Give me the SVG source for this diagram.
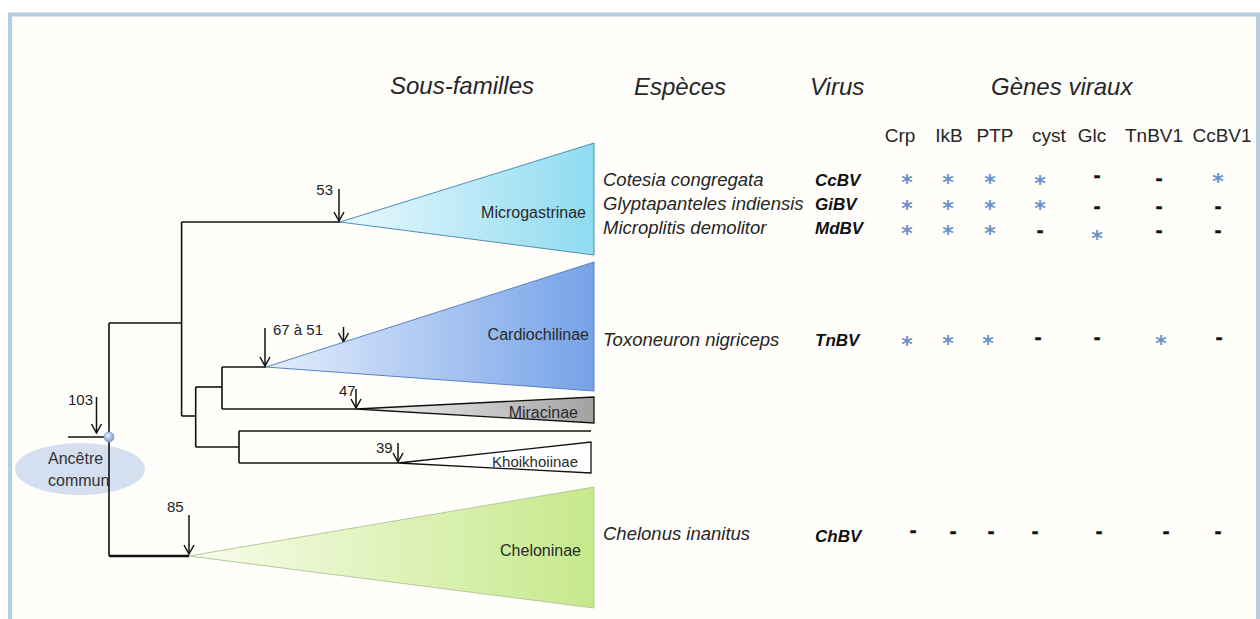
<svg xmlns="http://www.w3.org/2000/svg" width="1260" height="619" viewBox="0 0 1260 619">
<defs>
<style>
.title{font-family:"Liberation Sans",Arial,sans-serif;font-style:italic;font-size:24px;fill:#262626}
.gene{font-family:"Liberation Sans",Arial,sans-serif;font-size:19px;fill:#262626;text-anchor:middle}
.sp{font-family:"Liberation Sans",Arial,sans-serif;font-style:italic;font-size:18.5px;fill:#262626}
.vir{font-family:"Liberation Sans",Arial,sans-serif;font-style:italic;font-weight:bold;font-size:17px;fill:#111}
.lab{font-family:"Liberation Sans",Arial,sans-serif;font-size:16px;fill:#2a2a2a;text-anchor:end}
.num{font-family:"Liberation Sans",Arial,sans-serif;font-size:15px;fill:#222}
.anc{font-family:"Liberation Sans",Arial,sans-serif;font-size:16px;fill:#333}
.ast{font-family:"DejaVu Sans",sans-serif;font-size:22px;font-weight:bold;fill:#6a93c9;text-anchor:middle}
.dash{font-family:"Liberation Sans",Arial,sans-serif;font-size:20px;font-weight:bold;fill:#111;stroke:#111;stroke-width:0.6;text-anchor:middle}
.br{fill:none;stroke:#111;stroke-width:1.6}
.arr{fill:none;stroke:#111;stroke-width:1.5;marker-end:url(#ah)}
</style>
<marker id="ah" markerUnits="userSpaceOnUse" viewBox="-2 -7 12 14" refX="8" refY="0" markerWidth="12" markerHeight="14" orient="auto">
<path d="M-1,-5 L8,0 L-1,5" fill="none" stroke="#111" stroke-width="1.5"/>
</marker>
<linearGradient id="gMicro" x1="0" y1="0" x2="1" y2="0"><stop offset="0" stop-color="#eaf8fd"/><stop offset="1" stop-color="#8edbf0"/></linearGradient>
<linearGradient id="gCardio" x1="0" y1="0" x2="1" y2="0"><stop offset="0" stop-color="#e4eefc"/><stop offset="1" stop-color="#76a2e8"/></linearGradient>
<linearGradient id="gMira" x1="0" y1="0" x2="1" y2="0"><stop offset="0" stop-color="#f4f4f4"/><stop offset="1" stop-color="#a2a2a2"/></linearGradient>
<linearGradient id="gChel" x1="0" y1="0" x2="1" y2="0"><stop offset="0" stop-color="#f8fcea"/><stop offset="1" stop-color="#c6e98b"/></linearGradient>
<radialGradient id="gNode" cx="0.4" cy="0.35" r="0.7"><stop offset="0" stop-color="#e8f0fa"/><stop offset="1" stop-color="#6f93c4"/></radialGradient>
</defs>

<rect x="0" y="0" width="1260" height="619" fill="#ffffff"/>
<rect x="10" y="14.5" width="1248" height="700" fill="#fffefb" stroke="#b4cde0" stroke-width="4"/>

<g id="headers">
<text class="title" x="390" y="94">Sous-familles</text>
<text class="title" x="634" y="95">Espèces</text>
<text class="title" x="810" y="95">Virus</text>
<text class="title" x="991" y="95">Gènes viraux</text>
<text class="gene" x="900" y="142">Crp</text>
<text class="gene" x="949" y="142">IkB</text>
<text class="gene" x="995" y="142">PTP</text>
<text class="gene" x="1049" y="142">cyst</text>
<text class="gene" x="1092" y="142">Glc</text>
<text class="gene" x="1154" y="142">TnBV1</text>
<text class="gene" x="1222" y="142">CcBV1</text>
</g>

<g id="ancestor">
<ellipse cx="80" cy="469" rx="65" ry="26" fill="#d4dff0"/>
<text class="anc" x="48" y="464">Ancêtre</text>
<text class="anc" x="48" y="486">commun</text>
</g>

<g id="connectors">
<path class="br" d="M68,437 H109"/>
<path class="br" d="M109,323 V556"/>
<path class="br" d="M109,323 H181.6"/>
<path class="br" d="M181.6,222 V416"/>
<path class="br" d="M181.6,222 H340"/>
<path class="br" d="M181.6,416 H195.7"/>
<path class="br" d="M195.7,387 V447"/>
<path class="br" d="M195.7,387 H222"/>
<path class="br" d="M222,367 V409"/>
<path class="br" d="M222,367 H266"/>
<path class="br" d="M222,409 H356"/>
<path class="br" d="M195.7,447 H239"/>
<path class="br" d="M239,431 V463"/>
<path class="br" d="M239,431 H591"/>
<path class="br" d="M239,463 H398"/>
<path d="M109,556 H189" fill="none" stroke="#111" stroke-width="2.6"/>
<path class="arr" d="M339,189 V221"/>
<path class="arr" d="M265,328 V366"/>
<path class="arr" d="M343.5,327 V342"/>
<path class="arr" d="M356,389 V408"/>
<path class="arr" d="M398,443 V462"/>
<path class="arr" d="M189,515 V554"/>
<path class="arr" d="M96.5,397 V433"/>
</g>

<g id="root-node">
<circle cx="109" cy="437" r="5" fill="url(#gNode)" stroke="#7f9cc4" stroke-width="0.8"/>
</g>

<g id="dates">
<text class="num" x="333" y="195" text-anchor="end">53</text>
<text class="num" x="273" y="335">67 à 51</text>
<text class="num" x="339" y="396">47</text>
<text class="num" x="376" y="453">39</text>
<text class="num" x="167" y="512">85</text>
<text class="num" x="68" y="405">103</text>
</g>

<g id="microgastrinae">
<polygon points="340,222 594,143 594,255" fill="url(#gMicro)" stroke="#4a90b6" stroke-width="1"/>
<text class="lab" x="586" y="218">Microgastrinae</text>
</g>
<g id="cardiochilinae">
<polygon points="266,367 594,262 594,391" fill="url(#gCardio)" stroke="#5682c0" stroke-width="1"/>
<text class="lab" x="589" y="340">Cardiochilinae</text>
</g>
<g id="miracinae">
<polygon points="356,409 594,397 594,423" fill="url(#gMira)" stroke="#111" stroke-width="1.3"/>
<text class="lab" x="578" y="418">Miracinae</text>
</g>
<g id="khoikhoiinae">
<polygon points="398,463 591,442 591,473" fill="#ffffff" stroke="#111" stroke-width="1.3"/>
<text class="lab" x="578" y="467" style="font-size:15px">Khoikhoiinae</text>
</g>
<g id="cheloninae">
<polygon points="189,556 594,487 594,608" fill="url(#gChel)" stroke="#b5c99a" stroke-width="1"/>
<text class="lab" x="581" y="556">Cheloninae</text>
</g>

<g id="row-ccbv">
<text class="sp" x="603" y="186">Cotesia congregata</text>
<text class="vir" x="815" y="186">CcBV</text>
<text class="ast" x="907" y="190">*</text><text class="ast" x="948" y="190">*</text><text class="ast" x="990" y="190">*</text><text class="ast" x="1040" y="191">*</text>
<text class="dash" x="1097" y="182">-</text><text class="dash" x="1159" y="185">-</text>
<text class="ast" x="1218" y="189">*</text>
</g>
<g id="row-gibv">
<text class="sp" x="603" y="210">Glyptapanteles indiensis</text>
<text class="vir" x="815" y="210">GiBV</text>
<text class="ast" x="907" y="216">*</text><text class="ast" x="948" y="216">*</text><text class="ast" x="990" y="216">*</text><text class="ast" x="1040" y="216">*</text>
<text class="dash" x="1097" y="213">-</text><text class="dash" x="1159" y="213">-</text><text class="dash" x="1218" y="213">-</text>
</g>
<g id="row-mdbv">
<text class="sp" x="603" y="234">Microplitis demolitor</text>
<text class="vir" x="815" y="234">MdBV</text>
<text class="ast" x="907" y="241">*</text><text class="ast" x="948" y="241">*</text><text class="ast" x="990" y="241">*</text>
<text class="dash" x="1040" y="237">-</text>
<text class="ast" x="1097" y="246">*</text>
<text class="dash" x="1159" y="237">-</text><text class="dash" x="1218" y="237">-</text>
</g>
<g id="row-tnbv">
<text class="sp" x="603" y="346">Toxoneuron nigriceps</text>
<text class="vir" x="815" y="346">TnBV</text>
<text class="ast" x="907" y="352">*</text><text class="ast" x="948" y="351">*</text><text class="ast" x="988" y="351">*</text>
<text class="dash" x="1038" y="344">-</text><text class="dash" x="1097" y="344">-</text>
<text class="ast" x="1161" y="351">*</text>
<text class="dash" x="1219" y="344">-</text>
</g>
<g id="row-chbv">
<text class="sp" x="603" y="540">Chelonus inanitus</text>
<text class="vir" x="815" y="542">ChBV</text>
<text class="dash" x="913" y="537">-</text><text class="dash" x="953" y="538">-</text><text class="dash" x="991" y="538">-</text><text class="dash" x="1035" y="538">-</text><text class="dash" x="1099" y="538">-</text><text class="dash" x="1166" y="538">-</text><text class="dash" x="1218" y="538">-</text>
</g>
</svg>
